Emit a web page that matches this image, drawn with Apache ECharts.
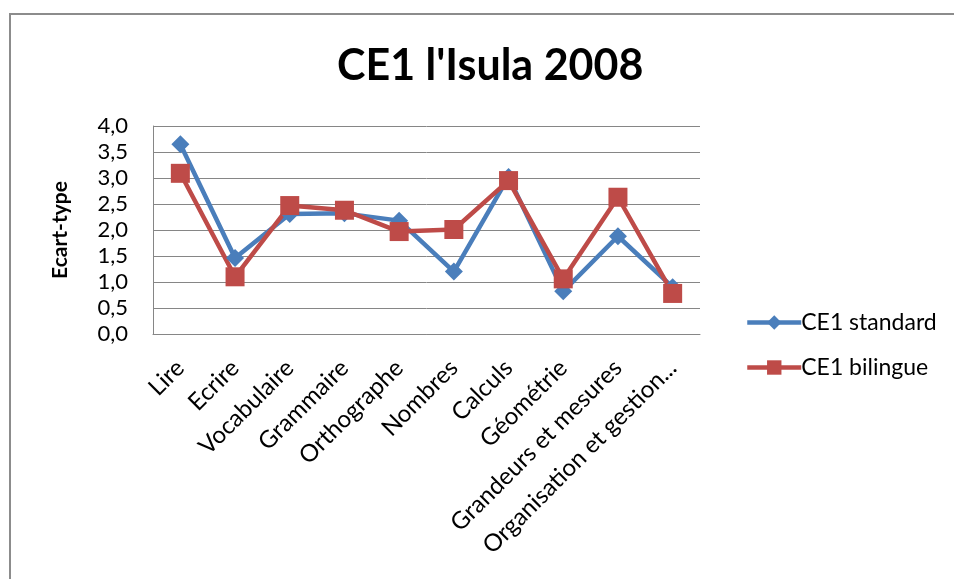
<!DOCTYPE html>
<html><head><meta charset="utf-8">
<script src="https://cdn.jsdelivr.net/npm/echarts@6/dist/echarts.min.js"></script>
<style>html,body{margin:0;padding:0;background:#fff}#c{width:954px;height:579px}</style>
</head><body><div id="c"></div>
<script>
const categories = ["Lire","Ecrire","Vocabulaire","Grammaire","Orthographe","Nombres","Calculs","Géométrie","Grandeurs et mesures","Organisation et gestion..."];
const standard = [3.65, 1.46, 2.31, 2.32, 2.18, 1.2, 3.02, 0.82, 1.88, 0.9];
const bilingue = [3.09, 1.1, 2.47, 2.38, 1.97, 2.01, 2.95, 1.06, 2.63, 0.78];
const yTicks = {min: 0, max: 4, interval: 0.5};
const FONT = 'Lato';
const chart = echarts.init(document.getElementById('c'), null, {renderer: 'canvas'});
chart.setOption({
  backgroundColor: '#fff',
  animation: false,
  graphic: [{type: 'rect', shape: {x: 10, y: 14, width: 960, height: 580}, style: {fill: 'none', stroke: '#8c8c8c', lineWidth: 2}}],
  title: {text: "CE1 l'Isula 2008", left: 332, top: 40, textStyle: {fontFamily: FONT, fontWeight: 'bold', fontSize: 43, color: '#000'}},
  legend: {orient: 'vertical', left: 740, top: 306, itemWidth: 54, itemHeight: 18, itemGap: 22,
    lineStyle: {width: 4.5},
    textStyle: {fontFamily: FONT, fontSize: 23, color: '#000', padding: [0,0,0,-5]},
    data: ['CE1 standard', 'CE1 bilingue']},
  grid: {left: 153, right: 254, top: 126, bottom: 245},
  xAxis: {type: 'category', data: categories, boundaryGap: true,
    axisLine: {lineStyle: {color: '#868686', width: 1}}, axisTick: {show: false},
    axisLabel: {rotate: 45, interval: 0, margin: 30, fontFamily: FONT, fontSize: 24, color: '#000'}},
  yAxis: {type: 'value', min: yTicks.min, max: yTicks.max, interval: yTicks.interval,
    name: 'Ecart-type', nameLocation: 'middle', nameGap: 82, nameRotate: 90,
    nameTextStyle: {fontFamily: FONT, fontWeight: 'bold', fontSize: 21, color: '#000'},
    axisLine: {show: true, lineStyle: {color: '#868686'}}, axisTick: {show: false},
    splitLine: {lineStyle: {color: '#868686', width: 1}},
    axisLabel: {margin: 25, fontFamily: FONT, fontSize: 22, color: '#000', formatter: v => v.toFixed(1).replace('.', ',')}},
  series: [
    {name: 'CE1 standard', type: 'line', data: standard, symbol: 'diamond', symbolSize: 18,
     color: '#4A7EBB', lineStyle: {width: 4.5, color: '#4A7EBB'}, itemStyle: {color: '#4A7EBB'}},
    {name: 'CE1 bilingue', type: 'line', data: bilingue, symbol: 'rect', symbolSize: 19,
     color: '#BE4B48', lineStyle: {width: 4.5, color: '#BE4B48'}, itemStyle: {color: '#BE4B48'}}
  ]
});
</script></body></html>
